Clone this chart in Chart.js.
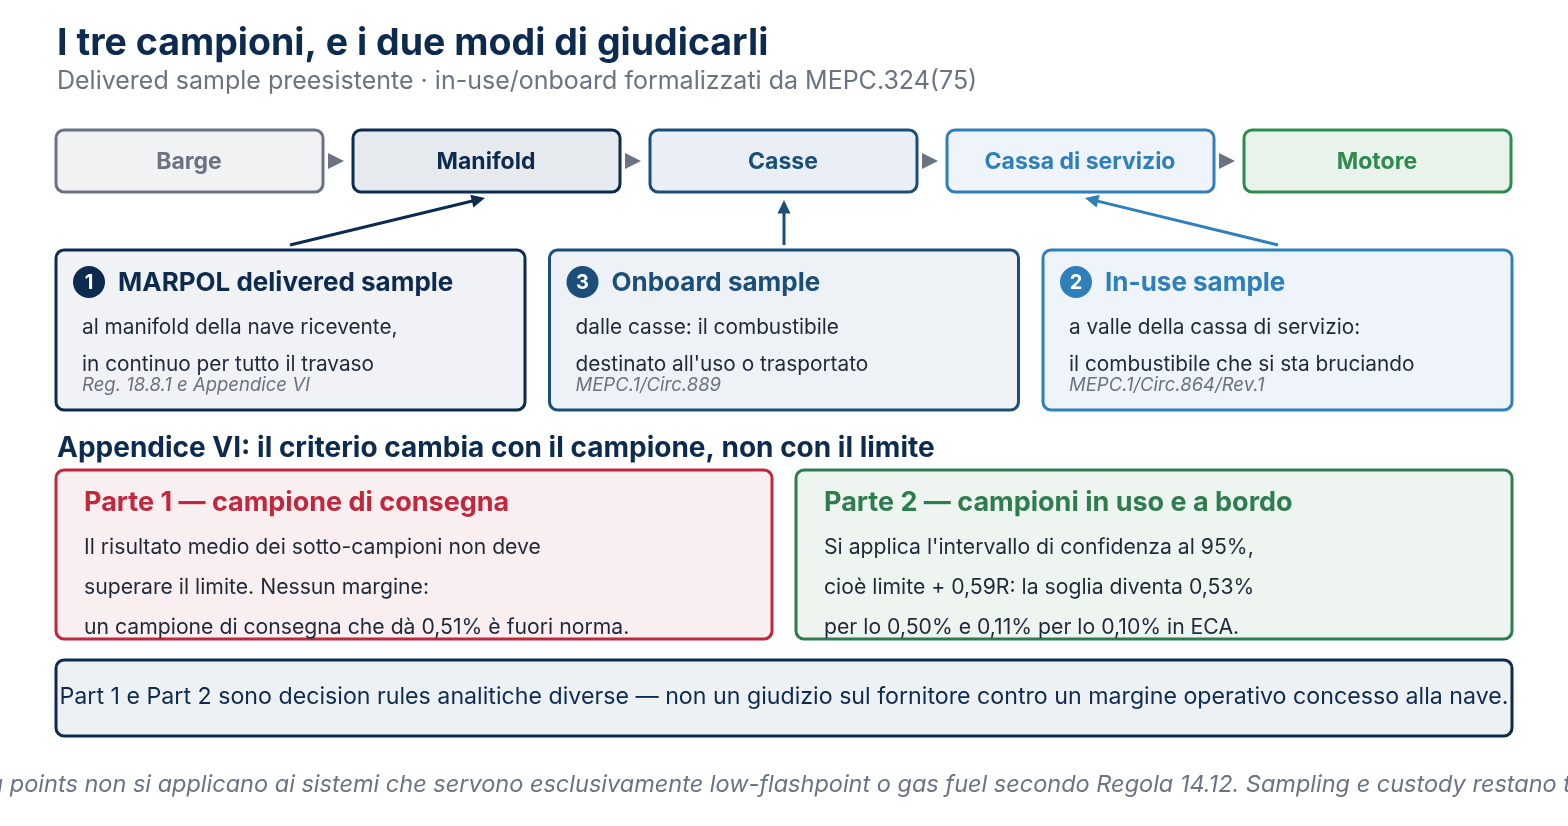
<!DOCTYPE html>
<html><head><meta charset="utf-8">
<script src="https://cdn.jsdelivr.net/npm/chart.js@4.4.1/dist/chart.umd.min.js"></script>
<style>html,body{margin:0;padding:0;background:#fff}#wrap{width:1568px;height:826px}</style>
</head><body><div id="wrap"><canvas id="c" width="1568" height="826"></canvas></div>
<script>
// text content
const title = 'I tre campioni, e i due modi di giudicarli';
const subtitle = 'Delivered sample preesistente · in-use/onboard formalizzati da MEPC.324(75)';
const stages = ['Barge', 'Manifold', 'Casse', 'Cassa di servizio', 'Motore'];
const sampleNums = ['1', '3', '2'];
const sampleTitles = ['MARPOL delivered sample', 'Onboard sample', 'In-use sample'];
const sampleLines = [
  ['al manifold della nave ricevente,', 'in continuo per tutto il travaso'],
  ['dalle casse: il combustibile', "destinato all'uso o trasportato"],
  ['a valle della cassa di servizio:', 'il combustibile che si sta bruciando']
];
const sampleRefs = ['Reg. 18.8.1 e Appendice VI', 'MEPC.1/Circ.889', 'MEPC.1/Circ.864/Rev.1'];
const sectionHead = 'Appendice VI: il criterio cambia con il campione, non con il limite';
const partTitles = ['Parte 1 — campione di consegna', 'Parte 2 — campioni in uso e a bordo'];
const partLines = [
  ['Il risultato medio dei sotto-campioni non deve', 'superare il limite. Nessun margine:', 'un campione di consegna che dà 0,51% è fuori norma.'],
  ["Si applica l'intervallo di confidenza al 95%,", 'cioè limite + 0,59R: la soglia diventa 0,53%', 'per lo 0,50% e 0,11% per lo 0,10% in ECA.']
];
const noteText = 'Part 1 e Part 2 sono decision rules analitiche diverse — non un giudizio sul fornitore contro un margine operativo concesso alla nave.';
const footer = 'I sampling points non si applicano ai sistemi che servono esclusivamente low-flashpoint o gas fuel secondo Regola 14.12. Sampling e custody restano tracciabili.';

const F = 'Inter, "Noto Sans", sans-serif';
const stageStyle = [
  ['#6b7280', '#f1f2f4', '#6b7280'],
  ['#0d2b4e', '#e6e9ee', '#0d2b4e'],
  ['#1b4f7a', '#e9eff5', '#1b4f7a'],
  ['#2f7fb8', '#eef4fa', '#2f7fb8'],
  ['#2e8b4e', '#e9f3ec', '#2e8b4e']
];
const sampleStyle = [['#0d2b4e', '#f0f2f5'], ['#1b4f7a', '#eef2f6'], ['#2f7fb8', '#eef4fa']];

function rr(ctx, x, y, w, h, r, stroke, fill, lw) {
  ctx.beginPath(); ctx.roundRect(x, y, w, h, r);
  ctx.fillStyle = fill; ctx.fill();
  ctx.lineWidth = lw; ctx.strokeStyle = stroke; ctx.stroke();
}
function txt(ctx, s, x, y, font, color, align) {
  ctx.font = font; ctx.fillStyle = color; ctx.textAlign = align || 'left';
  ctx.textBaseline = 'middle'; ctx.fillText(s, x, y);
}
function arrow(ctx, x1, y1, x2, y2, color) {
  const a = Math.atan2(y2 - y1, x2 - x1), L = 15;
  ctx.strokeStyle = color; ctx.fillStyle = color; ctx.lineWidth = 3;
  ctx.beginPath(); ctx.moveTo(x1, y1);
  ctx.lineTo(x2 - Math.cos(a) * L * 0.8, y2 - Math.sin(a) * L * 0.8); ctx.stroke();
  ctx.beginPath(); ctx.moveTo(x2, y2);
  ctx.lineTo(x2 - L * Math.cos(a - 0.45), y2 - L * Math.sin(a - 0.45));
  ctx.lineTo(x2 - L * Math.cos(a + 0.45), y2 - L * Math.sin(a + 0.45));
  ctx.closePath(); ctx.fill();
}

const diagram = {
  id: 'diagram',
  afterDraw(chart) {
    const ctx = chart.ctx, sx = chart.scales.x, sy = chart.scales.y;
    const X = v => sx.getPixelForValue(v), Y = v => sy.getPixelForValue(v);
    ctx.save();
    txt(ctx, title, X(57), Y(44), `bold 37.5px ${F}`, '#0d2b4e');
    txt(ctx, subtitle, X(57), Y(81), `25px ${F}`, '#6b7280');

    stages.forEach((s, i) => {
      const x0 = 56 + i * 297, st = stageStyle[i];
      rr(ctx, X(x0), Y(130), X(x0 + 267) - X(x0), Y(192) - Y(130), 8, st[0], st[1], 3);
      txt(ctx, s, X(x0 + 133), Y(162), `bold 23px ${F}`, st[2], 'center');
      if (i < stages.length - 1) {
        ctx.fillStyle = '#6b7280'; ctx.beginPath();
        ctx.moveTo(X(x0 + 272), Y(153)); ctx.lineTo(X(x0 + 288), Y(161)); ctx.lineTo(X(x0 + 272), Y(169));
        ctx.closePath(); ctx.fill();
      }
    });

    const arrows = [[290, 245, 485, 198], [784, 245, 784, 200], [1278, 245, 1085, 198]];
    sampleTitles.forEach((t, i) => {
      const x0 = 56 + i * 493.5, st = sampleStyle[i];
      rr(ctx, X(x0), Y(250), 469, 160, 8, st[0], st[1], 3);
      ctx.fillStyle = st[0]; ctx.beginPath(); ctx.arc(X(x0 + 33), Y(282), 16, 0, Math.PI * 2); ctx.fill();
      txt(ctx, sampleNums[i], X(x0 + 33), Y(283), `bold 20px ${F}`, '#fff', 'center');
      txt(ctx, t, X(x0 + 62), Y(283), `bold 26px ${F}`, st[0]);
      sampleLines[i].forEach((l, j) => txt(ctx, l, X(x0 + 26), Y(328 + j * 37), `20.8px ${F}`, '#1f2937'));
      txt(ctx, sampleRefs[i], X(x0 + 26), Y(385), `italic 18.5px ${F}`, '#6b7280');
      const a = arrows[i];
      arrow(ctx, X(a[0]), Y(a[1]), X(a[2]), Y(a[3]), st[0]);
    });

    txt(ctx, sectionHead, X(57), Y(449), `bold 28px ${F}`, '#0d2b4e');

    const partStyle = [['#c0283c', '#f9eef0'], ['#2e7d4f', '#eef4f0']];
    partTitles.forEach((t, i) => {
      const x0 = 56 + i * 740, st = partStyle[i];
      rr(ctx, X(x0), Y(470), 716, 169, 8, st[0], st[1], 3);
      txt(ctx, t, X(x0 + 28), Y(503), `bold 27px ${F}`, st[0]);
      partLines[i].forEach((l, j) => txt(ctx, l, X(x0 + 28), Y(548 + j * 40), `21.2px ${F}`, '#1f2937'));
    });

    rr(ctx, X(56), Y(660), X(1512) - X(56), 76, 8, '#0d2b4e', '#eef1f4', 3);
    txt(ctx, noteText, X(784), Y(697), `23.2px ${F}`, '#0d2b4e', 'center');

    txt(ctx, footer, X(784), Y(785), `italic 23.5px ${F}`, '#6b7280', 'center');
    ctx.restore();
  }
};

new Chart(document.getElementById('c'), {
  type: 'scatter',
  data: { datasets: [{ data: [], pointRadius: 0 }] },
  options: {
    responsive: false, animation: false, events: [],
    layout: { padding: 0 },
    plugins: { legend: { display: false }, tooltip: { enabled: false } },
    scales: {
      x: { type: 'linear', min: 0, max: 1568, display: false },
      y: { type: 'linear', min: 0, max: 826, reverse: true, display: false }
    }
  },
  plugins: [diagram]
});
</script></body></html>
